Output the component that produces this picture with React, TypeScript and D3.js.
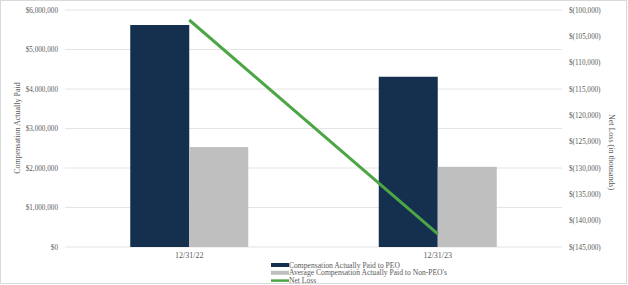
import React from "react";
import * as d3 from "d3";

const categories = ["12/31/22", "12/31/23"];
const series = ["Compensation Actually Paid to PEO", "Average Compensation Actually Paid to Non-PEO's"];
const peoValues = [5620000, 4310000];
const nonPeoValues = [2530000, 2030000];
const netLoss = [-101900, -142500];
const leftTicks = [0, 1000000, 2000000, 3000000, 4000000, 5000000, 6000000];
const rightTicks = [-100000, -105000, -110000, -115000, -120000, -125000, -130000, -135000, -140000, -145000];
const legendLabels = ["Compensation Actually Paid to PEO", "Average Compensation Actually Paid to Non-PEO's", "Net Loss"];

const W = 628, H = 285;
const C_DARK = "#152f4f";
const C_GRAY = "#bfbfbf";
const C_GREEN = "#4ca646";
const FONT = "'Liberation Serif', 'Times New Roman', serif";
const TXT = "#595959";

export default function App() {
  const x0 = d3.scaleBand<string>().domain(categories).range([65, 562]).padding(0);
  const groupW = 118;
  const x1 = d3.scaleBand<string>().domain(series).range([0, groupW]).padding(0);
  const yL = d3.scaleLinear().domain([0, 6000000]).range([247, 10]);
  const yR = d3.scaleLinear().domain([-145000, -100000]).range([247, 10]);
  const fmtL = (v: number) => "$" + d3.format(",")(v);
  const fmtR = (v: number) => "$(" + d3.format(",")(Math.abs(v)) + ")";
  const vals = [peoValues, nonPeoValues];
  const colors = [C_DARK, C_GRAY];
  const line = d3.line<number>()
    .x((_, i) => (x0(categories[i]) as number) + x0.bandwidth() / 2)
    .y((d) => yR(d));

  return (
    <svg width={W} height={H} style={{ position: "absolute", left: 0, top: 0 }} fontFamily={FONT}>
      <rect x={0.5} y={0.5} width={W - 2} height={H - 2} fill="#fff" stroke="#d9d9d9" />
      {leftTicks.map((t) => (
        <g key={t}>
          <line x1={65} x2={562} y1={yL(t)} y2={yL(t)} stroke="#e4e4e4" strokeWidth={1} />
          <text x={58} y={yL(t)} dy="0.35em" textAnchor="end" fontSize={7.2} fill={TXT}>{fmtL(t)}</text>
        </g>
      ))}
      {rightTicks.map((t) => (
        <text key={t} x={569} y={yR(t)} dy="0.35em" textAnchor="start" fontSize={7.2} fill={TXT}>{fmtR(t)}</text>
      ))}
      {categories.map((c, ci) => (
        <g key={c}>
          {series.map((s, si) => {
            const gx = (x0(c) as number) + x0.bandwidth() / 2 - groupW / 2;
            const v = vals[si][ci];
            return (
              <rect key={s} x={gx + (x1(s) as number)} y={yL(v)} width={x1.bandwidth()} height={yL(0) - yL(v)} fill={colors[si]} />
            );
          })}
          <text x={(x0(c) as number) + x0.bandwidth() / 2} y={255} dy="0.35em" textAnchor="middle" fontSize={8} fill={TXT}>{c}</text>
        </g>
      ))}
      <path d={line(netLoss) || ""} fill="none" stroke={C_GREEN} strokeWidth={3} />
      <text transform={`translate(17,128) rotate(-90)`} textAnchor="middle" dy="0.35em" fontSize={8} fill={TXT}>Compensation Actually Paid</text>
      <text transform={`translate(612,152) rotate(90)`} textAnchor="middle" dy="0.35em" fontSize={8} fill={TXT}>Net Loss (in thousands)</text>
      {legendLabels.map((l, i) => {
        const cy = 265 + i * 7.8;
        return (
          <g key={l}>
            {i < 2 ? (
              <rect x={271} y={cy - 2} width={18} height={4} fill={colors[i]} />
            ) : (
              <line x1={271} x2={289} y1={cy} y2={cy} stroke={C_GREEN} strokeWidth={2.5} />
            )}
            <text x={289} y={cy} dy="0.35em" fontSize={7.6} fill={TXT}>{l}</text>
          </g>
        );
      })}
    </svg>
  );
}
